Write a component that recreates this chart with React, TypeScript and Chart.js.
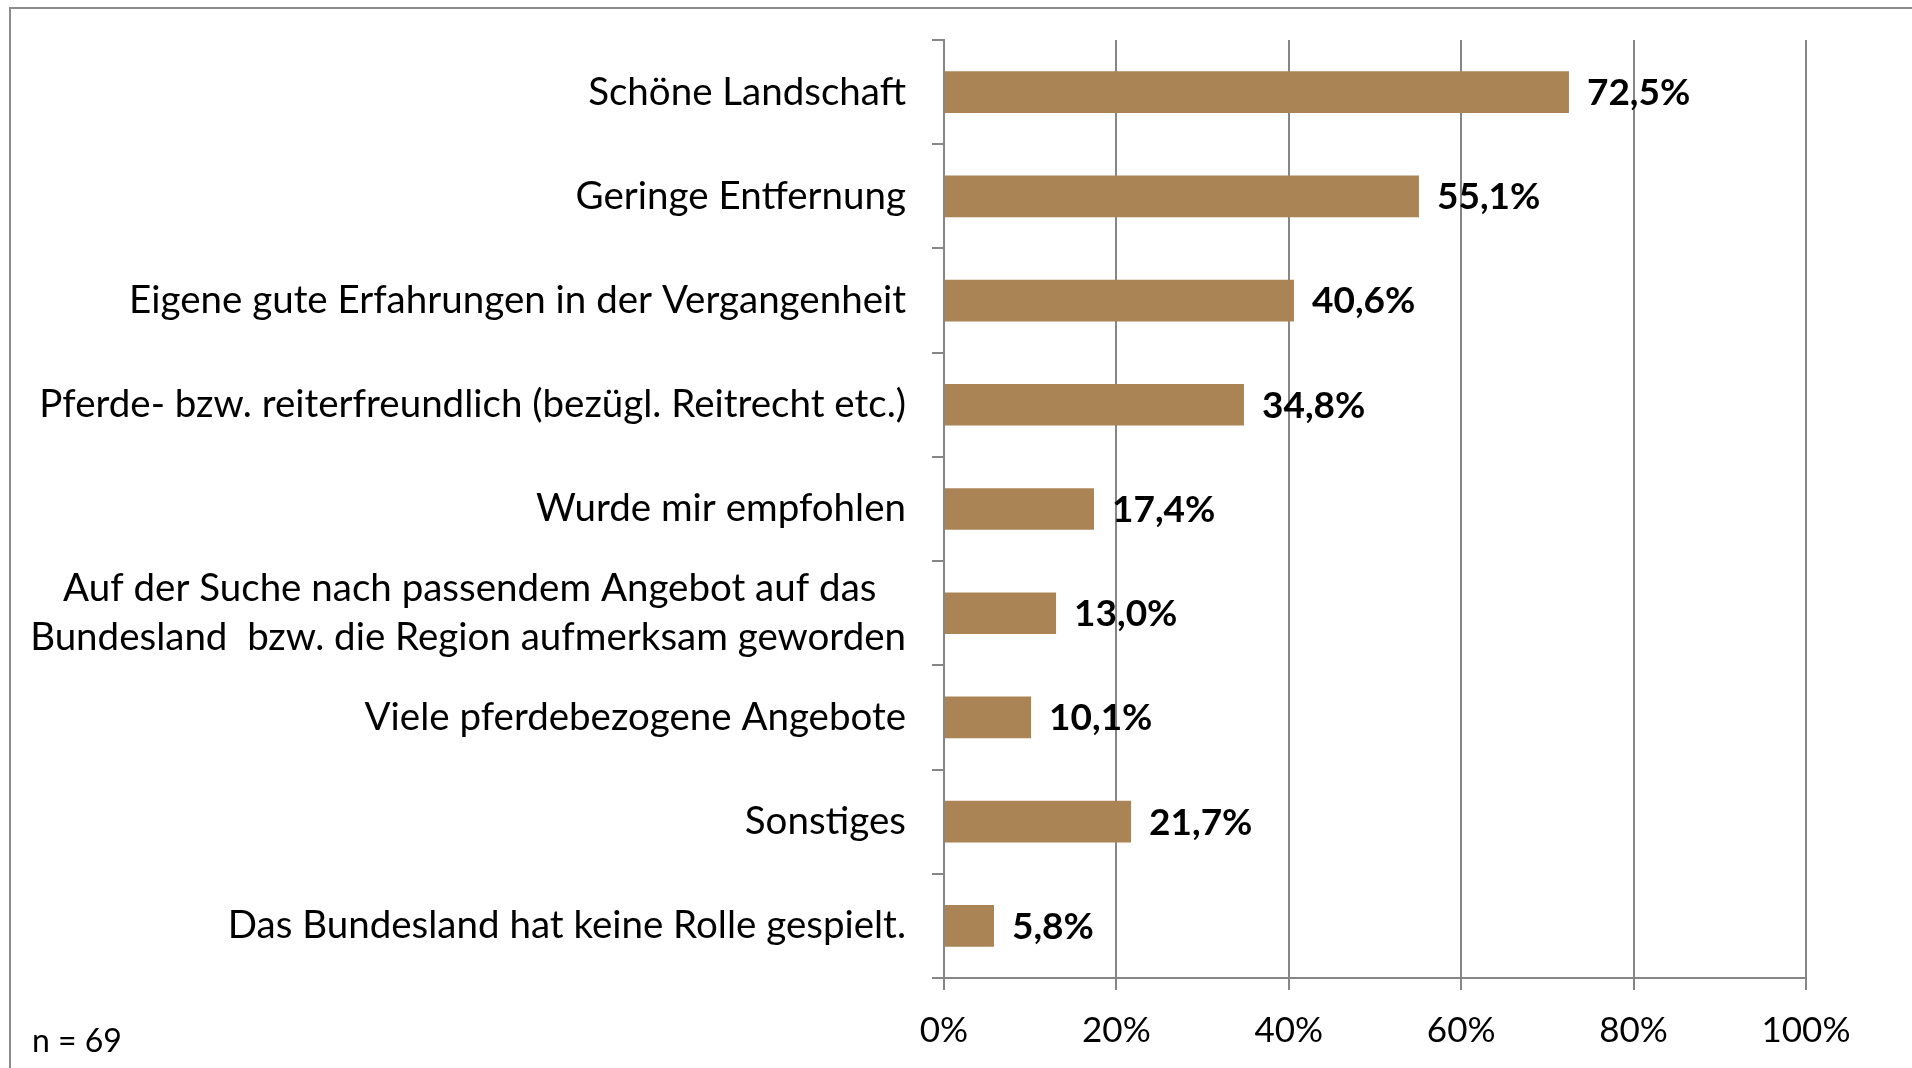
import React, { useEffect, useRef } from "react";
import { Chart, registerables } from "chart.js";

Chart.register(...registerables);

const categories: (string | string[])[] = [
  "Schöne Landschaft",
  "Geringe Entfernung",
  "Eigene gute Erfahrungen in der Vergangenheit",
  "Pferde- bzw. reiterfreundlich (bezügl. Reitrecht etc.)",
  "Wurde mir empfohlen",
  ["Auf der Suche nach passendem Angebot auf das   ", "Bundesland  bzw. die Region aufmerksam geworden"],
  "Viele pferdebezogene Angebote",
  "Sonstiges",
  "Das Bundesland hat keine Rolle gespielt.",
];

const values: number[] = [72.5, 55.1, 40.6, 34.8, 17.4, 13.0, 10.1, 21.7, 5.8];

const xTicks: number[] = [0, 20, 40, 60, 80, 100];

const sampleNote = "n = 69";

const BAR_COLOR = "#AB8456";
const GRID_COLOR = "#868686";
const FONT = "Lato";

const valueLabelPlugin = {
  id: "valueLabels",
  afterDatasetsDraw(chart: any) {
    const { ctx } = chart;
    const meta = chart.getDatasetMeta(0);
    ctx.save();
    ctx.font = `bold 37px ${FONT}`;
    ctx.fillStyle = "#000";
    ctx.textAlign = "left";
    ctx.textBaseline = "middle";
    meta.data.forEach((bar: any, i: number) => {
      const txt = values[i].toFixed(1).replace(".", ",") + "%";
      ctx.fillText(txt, bar.x + 18, bar.y + 1);
    });
    ctx.restore();
  },
};

export default function App() {
  const canvasRef = useRef<HTMLCanvasElement | null>(null);

  useEffect(() => {
    const canvas = canvasRef.current;
    if (!canvas) return;
    const chart = new Chart(canvas, {
      type: "bar",
      data: {
        labels: categories,
        datasets: [
          {
            data: values,
            backgroundColor: BAR_COLOR,
            borderWidth: 0,
            categoryPercentage: 1,
            barPercentage: 0.4,
          },
        ],
      },
      options: {
        indexAxis: "y",
        animation: false,
        responsive: false,
        devicePixelRatio: 1,
        layout: { padding: { top: 40, right: 106, bottom: 0, left: 0 } },
        plugins: {
          legend: { display: false },
          tooltip: { enabled: false },
          title: { display: false },
        },
        scales: {
          x: {
            type: "linear",
            min: 0,
            max: 100,
            afterBuildTicks: (scale: any) => {
              scale.ticks = xTicks.map((v) => ({ value: v }));
            },
            afterFit: (scale: any) => {
              scale.height = 90;
            },
            ticks: {
              callback: (v: any) => `${v}%`,
              color: "#000",
              font: { family: FONT, size: 35, lineHeight: 1.2 },
              padding: 20,
            },
            grid: {
              color: GRID_COLOR,
              lineWidth: 2,
              tickLength: 12,
              drawTicks: true,
            },
            border: { display: true, color: GRID_COLOR, width: 2 },
          },
          y: {
            type: "category",
            offset: true,
            afterFit: (scale: any) => {
              scale.width = 944;
              scale.paddingTop = 0;
              scale.paddingBottom = 0;
            },
            ticks: {
              color: "#000",
              font: { family: FONT, size: 38.5, lineHeight: 1.27 },
              padding: 26,
              autoSkip: false,
            },
            grid: {
              offset: true,
              drawOnChartArea: false,
              drawTicks: true,
              tickLength: 12,
              color: GRID_COLOR,
              lineWidth: 2,
            },
            border: { display: true, color: GRID_COLOR, width: 2 },
          },
        },
      },
      plugins: [valueLabelPlugin],
    });
    return () => chart.destroy();
  }, []);

  return (
    <div
      style={{
        position: "fixed",
        left: 0,
        top: 0,
        width: 1912,
        height: 1068,
        overflow: "hidden",
        background: "#fff",
      }}
    >
      <div
        style={{
          position: "absolute",
          left: 9,
          top: 7,
          width: 2000,
          height: 1200,
          borderLeft: "2px solid #8c8c8c",
          borderTop: "2px solid #8c8c8c",
          boxSizing: "border-box",
        }}
      />
      <canvas
        ref={canvasRef}
        width={1912}
        height={1068}
        style={{ position: "absolute", left: 0, top: 0, width: 1912, height: 1068 }}
      />
      <div
        style={{
          position: "absolute",
          left: 32,
          top: 1020,
          fontFamily: FONT,
          fontSize: 32,
          lineHeight: "40px",
          color: "#000",
          whiteSpace: "pre",
        }}
      >
        {sampleNote}
      </div>
    </div>
  );
}
